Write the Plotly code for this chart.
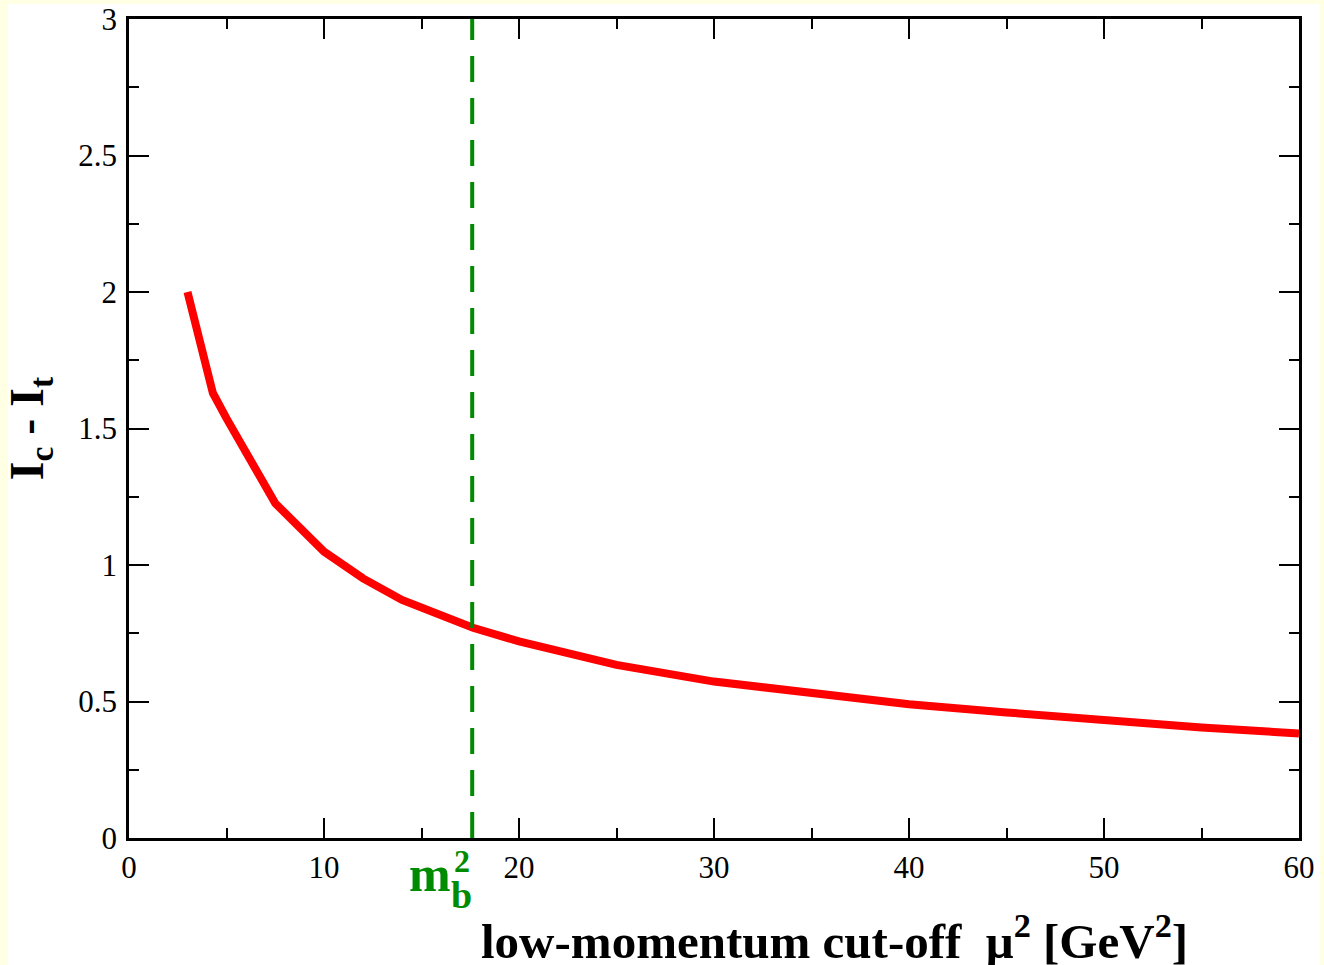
import plotly.graph_objects as go

# Data
mu2 = [3, 4.3, 5, 7.5, 10, 12, 14, 17.64, 20, 25, 30, 35, 40, 45, 50, 55, 60]
ic_minus_it = [2.0, 1.63, 1.537, 1.226, 1.049, 0.951, 0.872, 0.77, 0.72, 0.634,
               0.573, 0.528, 0.49, 0.46, 0.43, 0.405, 0.383]
mb2 = 17.6
x_ticks = [0, 10, 20, 30, 40, 50, 60]
y_ticks = [0, 0.5, 1, 1.5, 2, 2.5, 3]
y_tick_labels = ["0", "0.5", "1", "1.5", "2", "2.5", "3"]

FONT = "Liberation Serif"
GREEN = "#008B00"

W, H = 1324, 965
ml, mr, mt, mb = 129, 25, 19, 127
pw, ph = W - ml - mr, H - mt - mb


def px_x(p):
    return (p - ml) / pw


def px_y(p):
    return (H - mb - p) / ph


fig = go.Figure()
fig.add_trace(go.Scatter(x=mu2, y=ic_minus_it, mode="lines",
                         line=dict(color="#FF0000", width=8), showlegend=False))
fig.add_trace(go.Scatter(x=[mb2, mb2], y=[0, 3], mode="lines",
                         line=dict(color=GREEN, width=4, dash="26px,16px"),
                         showlegend=False))

axis_common = dict(showgrid=False, zeroline=False, showline=True, linecolor="black",
                   linewidth=2.5, mirror="ticks", ticks="inside", ticklen=20,
                   tickwidth=2, tickcolor="black", automargin=False,
                   tickfont=dict(family=FONT, size=31, color="black"))

fig.update_xaxes(range=[0, 60], tickvals=x_ticks, ticktext=[str(v) for v in x_ticks],
                 minor=dict(ticks="inside", ticklen=10, dtick=5, tick0=0,
                            tickcolor="black", tickwidth=2, showgrid=False),
                 **axis_common)
fig.update_yaxes(range=[0, 3], tickvals=y_ticks, ticktext=y_tick_labels,
                 ticklabelstandoff=3,
                 minor=dict(ticks="inside", ticklen=10, dtick=0.25, tick0=0,
                            tickcolor="black", tickwidth=2, showgrid=False),
                 title=dict(text="<b>I<sub>c</sub> - I<sub>t</sub></b>",
                            font=dict(family=FONT, size=48, color="black"), standoff=24),
                 **axis_common)

annotations = [
    dict(text="<b>low-momentum cut-off  μ<sup>2</sup> [GeV<sup>2</sup>]</b>",
         xref="paper", yref="paper", x=px_x(834), y=px_y(937), xanchor="center",
         yanchor="middle", showarrow=False, font=dict(family=FONT, size=49, color="black")),
    dict(text="<b>m</b>", xref="paper", yref="paper", x=px_x(430), y=px_y(874),
         xanchor="center", yanchor="middle", showarrow=False,
         font=dict(family=FONT, size=50, color=GREEN)),
    dict(text="<b>2</b>", xref="paper", yref="paper", x=px_x(462), y=px_y(861),
         xanchor="center", yanchor="middle", showarrow=False,
         font=dict(family=FONT, size=32, color=GREEN)),
    dict(text="<b>b</b>", xref="paper", yref="paper", x=px_x(461), y=px_y(895),
         xanchor="center", yanchor="middle", showarrow=False,
         font=dict(family=FONT, size=38, color=GREEN)),
]

# white page area inside a thin pale-yellow frame
shapes = [dict(type="rect", xref="paper", yref="paper", layer="below",
               x0=px_x(8), x1=px_x(1320), y0=px_y(H + 5), y1=px_y(4),
               fillcolor="white", line=dict(width=0))]

fig.update_layout(width=W, height=H, margin=dict(l=ml, r=mr, t=mt, b=mb),
                  paper_bgcolor="#FFFFE3", plot_bgcolor="white",
                  annotations=annotations, shapes=shapes,
                  font=dict(family=FONT, color="black"))

fig.write_html("out.html", config={"displayModeBar": False},
               post_script="document.body.style.margin='0';"
                           "document.body.style.background='#FFFFE3';")
